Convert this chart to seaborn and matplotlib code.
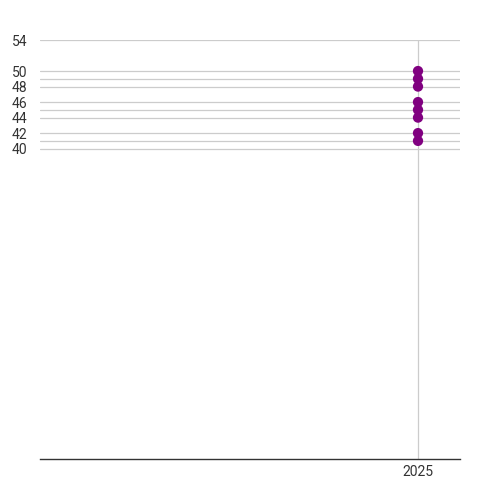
import numpy as np
import pandas as pd
import seaborn as sns
import matplotlib.pyplot as plt

# values
years = [2025, 2025, 2025, 2025, 2025, 2025, 2025, 2025]
scores = [50, 49, 48, 46, 45, 44, 42, 41]
y_grid = [40, 41, 42, 44, 45, 46, 48, 49, 50, 54]
y_labels = [40, 42, 44, 46, 48, 50, 54]
x_ticks = [2016, 2020, 2021, 2024, 2025, 2026]
x_labels = ["", "", "", "", "2025", ""]

df = pd.DataFrame({"year": years, "score": scores})

sns.set_theme(style="white")
plt.rcParams["font.family"] = ["Roboto", "DejaVu Sans"]

fig = plt.figure(figsize=(5, 5), dpi=100)
ax = fig.add_axes([0.08, 0.082, 0.84, 0.838])

# horizontal grid lines at the data values and the axis ends
for v in y_grid:
    ax.axhline(v, color="#cccccc", lw=0.9, zorder=0)
ax.axvline(2025, color="#cccccc", lw=0.9, zorder=0)

sns.scatterplot(data=df, x="year", y="score", ax=ax, color="#800080",
                s=55, edgecolor="none", zorder=3, legend=False)

ax.set_xlim(2016, 2026)
ax.set_ylim(0, 54)
ax.set_yticks(y_labels)
ax.set_yticklabels([str(v) for v in y_labels], fontsize=10, color="#333333")
ax.set_xticks(x_ticks)
ax.set_xticklabels(x_labels, fontsize=10, color="#333333")
ax.tick_params(axis="y", length=0, pad=9)
ax.tick_params(axis="x", length=3, width=1.2, color="#aaaaaa", pad=3, direction="inout")
ax.set_xlabel("")
ax.set_ylabel("")

for s in ["left", "right", "top"]:
    ax.spines[s].set_visible(False)
ax.spines["bottom"].set_color("#333333")
ax.spines["bottom"].set_linewidth(1.0)

fig.savefig("out.png", dpi=100)
